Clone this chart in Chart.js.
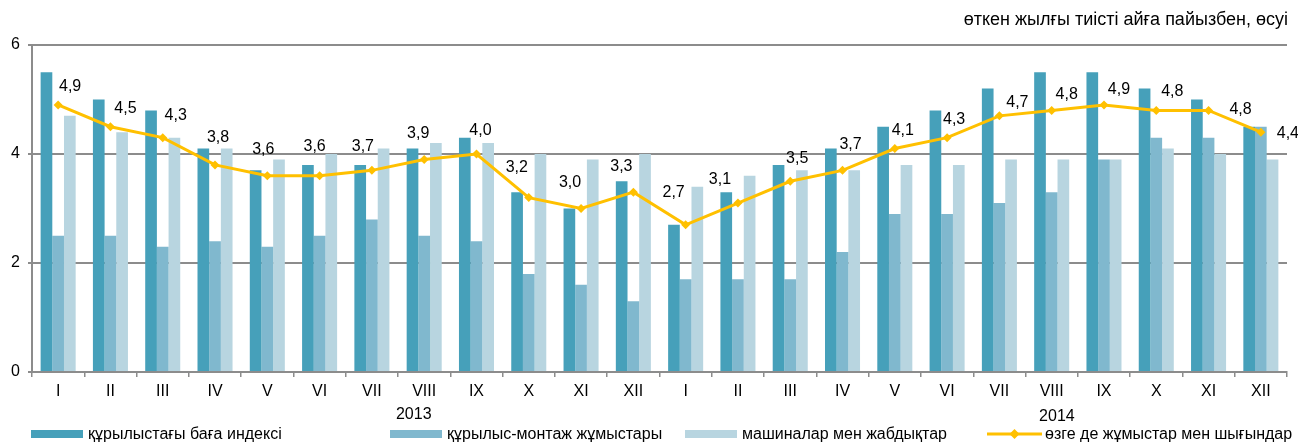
<!DOCTYPE html>
<html>
<head>
<meta charset="utf-8">
<script src="https://cdn.jsdelivr.net/npm/chart.js@4"></script>
<style>
    html, body { margin: 0; padding: 0; background: #fff; }
    #wrap { position: relative; width: 1298px; height: 443px; font-family: "Liberation Sans", Arial, sans-serif; color: #000; }
    #chart { position: absolute; left: 0; top: 0; }
    #unit { position: absolute; right: 10px; top: 9px; font-size: 18px; }
    #legend { position: absolute; left: 0; top: 425px; width: 1298px; height: 18px; font-size: 16px; }
    .item { position: absolute; top: 0; height: 18px; display: flex; align-items: center; white-space: nowrap; }
    .box { width: 52px; height: 8px; margin-right: 5px; }
</style>
</head>
<body>
<div id="wrap">
    <canvas id="chart" width="1298" height="443"></canvas>
    <div id="unit">өткен жылғы тиісті айға пайызбен, өсуі</div>
    <div id="legend"></div>
</div>
<script>
const months = ['I', 'II', 'III', 'IV', 'V', 'VI', 'VII', 'VIII', 'IX', 'X', 'XI', 'XII'];
const categories = months.concat(months);
const years = ['2013', '2014'];
const yTicks = [0, 2, 4, 6];

const seriesNames = [
    'құрылыстағы баға индексі',
    'құрылыс-монтаж жұмыстары',
    'машиналар мен жабдықтар',
    'өзге де жұмыстар мен шығындар'
];

const priceIndex = [5.5, 5.0, 4.8, 4.1, 3.7, 3.8, 3.8, 4.1, 4.3, 3.3, 3.0, 3.5,
                    2.7, 3.3, 3.8, 4.1, 4.5, 4.8, 5.2, 5.5, 5.5, 5.2, 5.0, 4.5];
const constructionWorks = [2.5, 2.5, 2.3, 2.4, 2.3, 2.5, 2.8, 2.5, 2.4, 1.8, 1.6, 1.3,
                           1.7, 1.7, 1.7, 2.2, 2.9, 2.9, 3.1, 3.3, 3.9, 4.3, 4.3, 4.5];
const machinery = [4.7, 4.4, 4.3, 4.1, 3.9, 4.0, 4.1, 4.2, 4.2, 4.0, 3.9, 4.0,
                   3.4, 3.6, 3.7, 3.7, 3.8, 3.8, 3.9, 3.9, 3.9, 4.1, 4.0, 3.9];
const otherWorks = [4.9, 4.5, 4.3, 3.8, 3.6, 3.6, 3.7, 3.9, 4.0, 3.2, 3.0, 3.3,
                    2.7, 3.1, 3.5, 3.7, 4.1, 4.3, 4.7, 4.8, 4.9, 4.8, 4.8, 4.4];

const colors = ['#46a0ba', '#80b8ce', '#b8d5e0', '#ffc000'];
const FONT = '"Liberation Sans", Arial, sans-serif';

// label placement next to each line point (px, relative to the point)
const labelDx = [12, 15, 13, 3, -4, -5, -9, -6, 4, -12, -11, -12,
                 -12, -18, 7, 8, 8, 7, 18, 15, 15, 16, 32, 27];
const labelDy = [-18, -18, -22, -27, -26, -29, -24, -26, -23, -30, -26, -26,
                 -32, -23, -23, -26, -18, -18, -13, -16, -15, -19, -1, 1];

function fmt(v) {
    return v.toFixed(1).replace('.', ',');
}

// values near the line points
const lineLabels = {
    id: 'lineLabels',
    afterDatasetsDraw(chart) {
        const ctx = chart.ctx;
        const meta = chart.getDatasetMeta(3);
        ctx.save();
        ctx.font = '16px ' + FONT;
        ctx.fillStyle = '#000';
        ctx.textAlign = 'center';
        ctx.textBaseline = 'middle';
        meta.data.forEach((pt, i) => {
            ctx.fillText(fmt(otherWorks[i]), pt.x + labelDx[i], pt.y + labelDy[i]);
        });
        ctx.restore();
    }
};

// year captions under the month labels
const yearLabels = {
    id: 'yearLabels',
    afterDraw(chart) {
        const ctx = chart.ctx;
        const x = chart.scales.x;
        ctx.save();
        ctx.font = '16px ' + FONT;
        ctx.fillStyle = '#000';
        ctx.textAlign = 'center';
        ctx.textBaseline = 'middle';
        ctx.fillText(years[0], x.getPixelForValue(6.8), 415);
        ctx.fillText(years[1], x.getPixelForValue(19.1), 417);
        ctx.restore();
    }
};

const barDs = (i, data) => ({
    type: 'bar',
    label: seriesNames[i],
    data: data,
    backgroundColor: colors[i],
    borderWidth: 0,
    categoryPercentage: 0.67,
    barPercentage: 1.0,
    order: 1
});

new Chart(document.getElementById('chart'), {
    type: 'bar',
    data: {
        labels: categories,
        datasets: [
            barDs(0, priceIndex),
            barDs(1, constructionWorks),
            barDs(2, machinery),
            {
                type: 'line',
                label: seriesNames[3],
                data: otherWorks,
                borderColor: colors[3],
                backgroundColor: colors[3],
                borderWidth: 3,
                pointStyle: 'rectRot',
                pointRadius: 4.5,
                pointBorderWidth: 0,
                tension: 0,
                order: 0
            }
        ]
    },
    options: {
        responsive: false,
        animation: false,
        layout: { padding: { top: 45, right: 11, bottom: 0, left: 0 } },
        plugins: {
            legend: { display: false },
            tooltip: { enabled: false }
        },
        scales: {
            x: {
                offset: true,
                afterFit: s => { s.height = 71; },
                grid: {
                    offset: true,
                    drawOnChartArea: false,
                    tickLength: 5,
                    color: '#8c8c8c',
                    lineWidth: 1.5
                },
                border: { color: '#8c8c8c', width: 2 },
                ticks: {
                    color: '#000',
                    padding: 5,
                    maxRotation: 0,
                    autoSkip: false,
                    font: { family: FONT, size: 16 }
                }
            },
            y: {
                min: 0,
                max: 6,
                afterFit: s => { s.width = 32; },
                afterBuildTicks: s => { s.ticks = yTicks.map(v => ({ value: v })); },
                grid: {
                    color: '#8c8c8c',
                    lineWidth: 2,
                    tickLength: 4
                },
                border: { color: '#8c8c8c', width: 2 },
                ticks: {
                    color: '#000',
                    padding: 8,
                    font: { family: FONT, size: 16 }
                }
            }
        }
    },
    plugins: [lineLabels, yearLabels]
});

// legend, laid out like the original
const legendLeft = [31, 390, 685, 987];
const legend = document.getElementById('legend');
seriesNames.forEach((name, i) => {
    const item = document.createElement('div');
    item.className = 'item';
    item.style.left = legendLeft[i] + 'px';
    let mark;
    if (i < 3) {
        mark = `<span class="box" style="background:${colors[i]}"></span>`;
    } else {
        mark = `<svg width="55" height="12" style="margin-right:3px"><line x1="0" y1="6" x2="55" y2="6" stroke="${colors[i]}" stroke-width="3"/><polygon points="27.5,1 32.5,6 27.5,11 22.5,6" fill="${colors[i]}"/></svg>`;
    }
    item.innerHTML = mark + `<span>${name}</span>`;
    legend.appendChild(item);
});
</script>
</body>
</html>
